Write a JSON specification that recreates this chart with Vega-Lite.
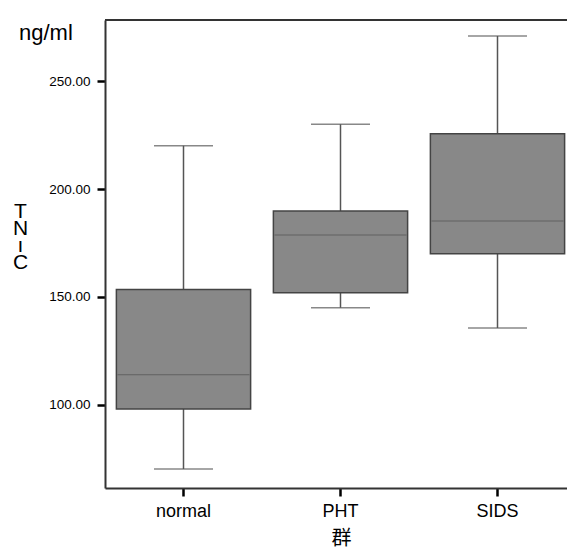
{
  "$schema": "https://vega.github.io/schema/vega-lite/v6.json",
  "autosize": {"type": "none"},
  "width": 462,
  "height": 468,
  "padding": {"left": 105, "top": 20, "right": 0, "bottom": 62},
  "background": "white",
  "config": {
    "view": {"stroke": null},
    "font": "Liberation Sans",
    "axis": {"labelFont": "Liberation Sans", "titleFont": "Liberation Sans", "grid": false}
  },
  "title": {
    "text": "ng/ml",
    "anchor": "start",
    "frame": "group",
    "font": "Liberation Sans",
    "fontSize": 22,
    "fontWeight": "normal",
    "color": "#000",
    "baseline": "alphabetic",
    "dx": -86,
    "offset": -43
  },
  "data": {
    "values": [
      {"group": "normal", "min": 70.3, "q1": 98.1, "median": 114.0, "q3": 153.4, "max": 220.0},
      {"group": "PHT", "min": 145.0, "q1": 151.9, "median": 178.7, "q3": 189.8, "max": 230.0},
      {"group": "SIDS", "min": 135.6, "q1": 170.0, "median": 185.2, "q3": 225.6, "max": 270.9}
    ]
  },
  "encoding": {
    "x": {
      "field": "group",
      "type": "nominal",
      "sort": ["normal", "PHT", "SIDS"],
      "scale": {"domain": ["normal", "PHT", "SIDS"], "range": [0, 471], "paddingInner": 0, "paddingOuter": 0},
      "axis": {
        "title": "群",
        "titleFont": "Noto Sans CJK JP",
        "titleFontSize": 20,
        "titleFontWeight": "normal",
        "titleColor": "#000",
        "titlePadding": 8,
        "titleX": 236,
        "labelAngle": 0,
        "labelFontSize": 18,
        "labelColor": "#000",
        "labelPadding": 6,
        "tickSize": 8,
        "tickWidth": 2.5,
        "tickColor": "#000",
        "domainColor": "#333",
        "domainWidth": 2
      }
    }
  },
  "layer": [
    {
      "mark": {"type": "rule", "color": "#555", "strokeWidth": 1.5},
      "encoding": {
        "y": {
          "field": "min",
          "type": "quantitative",
          "scale": {"domain": [61.5, 278.3], "nice": false, "zero": false},
          "axis": {
            "values": [100, 150, 200, 250],
            "format": ".2f",
            "labelFontSize": 13.5,
            "labelColor": "#000",
            "labelPadding": 7,
            "tickSize": 8,
            "tickWidth": 2.5,
            "tickColor": "#000",
            "domainColor": "#333",
            "domainWidth": 2,
            "title": ["T", "N", "ı", "C"],
            "titleFontSize": 21,
            "titleFontWeight": "normal",
            "titleColor": "#000",
            "titleAngle": 0,
            "titleAlign": "center",
            "titleBaseline": "top",
            "titleLineHeight": 17,
            "titleX": -85,
            "titleY": 180
          }
        },
        "y2": {"field": "max"}
      }
    },
    {
      "mark": {"type": "tick", "color": "#555", "size": 59, "thickness": 1.5},
      "encoding": {"y": {"field": "min", "type": "quantitative"}}
    },
    {
      "mark": {"type": "tick", "color": "#555", "size": 59, "thickness": 1.5},
      "encoding": {"y": {"field": "max", "type": "quantitative"}}
    },
    {
      "mark": {"type": "bar", "fill": "#888888", "stroke": "#444444", "strokeWidth": 1.5, "width": {"band": 0.855}},
      "encoding": {
        "y": {"field": "q1", "type": "quantitative"},
        "y2": {"field": "q3"}
      }
    },
    {
      "mark": {"type": "tick", "color": "#505050", "size": 132, "thickness": 1},
      "encoding": {"y": {"field": "median", "type": "quantitative"}}
    },
    {
      "data": {"values": [{"edge": "top"}]},
      "mark": {"type": "rule", "color": "#333", "strokeWidth": 2},
      "encoding": {"y": {"datum": 278.3}, "x": null}
    }
  ]
}
